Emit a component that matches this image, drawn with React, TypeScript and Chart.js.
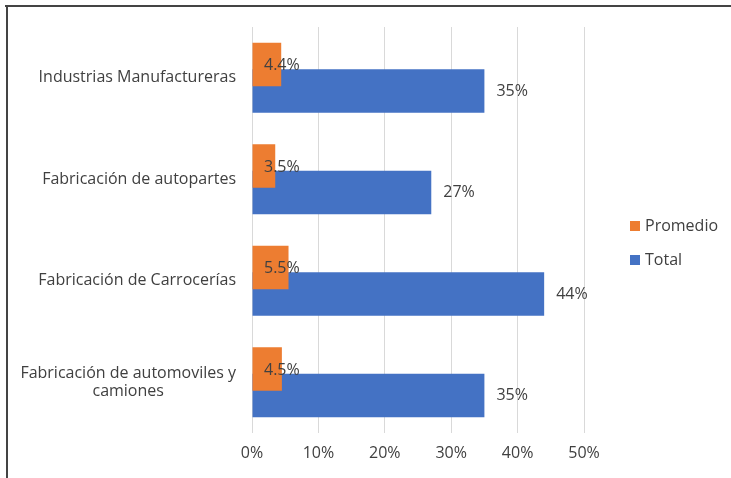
import React, { useEffect, useRef } from 'react';
import { Chart, registerables } from 'chart.js';

Chart.register(...registerables);

const categories: string[][] = [
  ['Industrias Manufactureras'],
  ['Fabricación de autopartes'],
  ['Fabricación de Carrocerías'],
  ['Fabricación de automoviles y', 'camiones'],
];
const seriesNames = ['Promedio', 'Total'];
const promedio = [4.4, 3.5, 5.5, 4.5];
const total = [35, 27, 44, 35];
const promedioLabels = ['4.4%', '3.5%', '5.5%', '4.5%'];
const totalLabels = ['35%', '27%', '44%', '35%'];
const xMin = 0;
const xMax = 50;
const xStep = 10;

const ORANGE = '#ED7D31';
const BLUE = '#4472C4';
const TEXT = '#404040';
const FONT_FAMILY = '"Open Sans", Lato, sans-serif';
const FONT_SIZE = 16;

const W = 731;
const H = 478;

const customPlugin = {
  id: 'customDraw',
  afterDatasetsDraw(chart: any) {
    const ctx = chart.ctx;
    const x = chart.scales.x;
    ctx.save();
    ctx.font = `${FONT_SIZE}px ${FONT_FAMILY}`;
    ctx.fillStyle = TEXT;
    ctx.textBaseline = 'middle';
    ctx.textAlign = 'left';
    const m0 = chart.getDatasetMeta(0);
    const m1 = chart.getDatasetMeta(1);
    const x0 = x.getPixelForValue(0);
    m0.data.forEach((bar: any, i: number) => {
      ctx.fillText(promedioLabels[i], x0 + 12, bar.y + 1);
    });
    m1.data.forEach((bar: any, i: number) => {
      ctx.fillText(totalLabels[i], bar.x + 12, bar.y);
    });
    ctx.restore();
  },
  afterDraw(chart: any) {
    const ctx = chart.ctx;
    const y = chart.scales.y;
    const area = chart.chartArea;
    ctx.save();
    ctx.font = `${FONT_SIZE}px ${FONT_FAMILY}`;
    ctx.fillStyle = TEXT;
    ctx.textBaseline = 'middle';
    ctx.textAlign = 'center';
    const right = area.left - 16;
    const lineH = 18;
    categories.forEach((lines, i) => {
      const cy = y.getPixelForTick(i);
      const widest = Math.max(...lines.map((l) => ctx.measureText(l).width));
      const cx = right - widest / 2;
      const startY = cy - ((lines.length - 1) * lineH) / 2;
      lines.forEach((l, j) => ctx.fillText(l, cx, startY + j * lineH));
    });
    // legend
    const legendX = 630;
    const legendYs = [226, 260];
    const colors = [ORANGE, BLUE];
    ctx.textAlign = 'left';
    seriesNames.forEach((name, i) => {
      ctx.fillStyle = colors[i];
      ctx.fillRect(legendX, legendYs[i] - 5, 10, 10);
      ctx.fillStyle = TEXT;
      ctx.fillText(name, legendX + 15, legendYs[i]);
    });
    // frame
    ctx.fillStyle = '#444444';
    ctx.fillRect(5, 5, W, 2);
    ctx.fillRect(6, 5, 2, H);
    ctx.restore();
  },
};

export default function App() {
  const ref = useRef<HTMLCanvasElement | null>(null);
  useEffect(() => {
    if (!ref.current) return;
    const chart = new Chart(ref.current, {
      type: 'bar',
      data: {
        labels: categories.map((c) => c.join(' ')),
        datasets: [
          {
            label: seriesNames[0],
            data: promedio,
            backgroundColor: ORANGE,
            categoryPercentage: 0.52,
            barPercentage: 1.65,
          },
          {
            label: seriesNames[1],
            data: total,
            backgroundColor: BLUE,
            categoryPercentage: 0.52,
            barPercentage: 1.65,
          },
        ],
      },
      options: {
        indexAxis: 'y',
        responsive: false,
        animation: false,
        layout: { padding: { top: 27, right: W - 584, bottom: 0, left: 0 } },
        plugins: {
          legend: { display: false },
          tooltip: { enabled: false },
        },
        scales: {
          x: {
            min: xMin,
            max: xMax,
            ticks: {
              stepSize: xStep,
              callback: (v: any) => v + '%',
              color: TEXT,
              font: { family: FONT_FAMILY, size: FONT_SIZE },
              padding: 11,
              maxRotation: 0,
            },
            grid: { color: '#D9D9D9', lineWidth: 1, drawTicks: false },
            border: { display: false },
            afterFit: (s: any) => {
              s.height = H - 433;
            },
          },
          y: {
            ticks: { display: false },
            grid: { display: false, drawTicks: false },
            border: { display: false },
            afterFit: (s: any) => {
              s.width = 252;
            },
          },
        },
      },
      plugins: [customPlugin],
    });
    return () => chart.destroy();
  }, []);
  return (
    <div style={{ position: 'fixed', left: 0, top: 0, width: W, height: H, background: '#fff' }}>
      <canvas ref={ref} width={W} height={H} style={{ width: W, height: H, display: 'block' }} />
    </div>
  );
}
